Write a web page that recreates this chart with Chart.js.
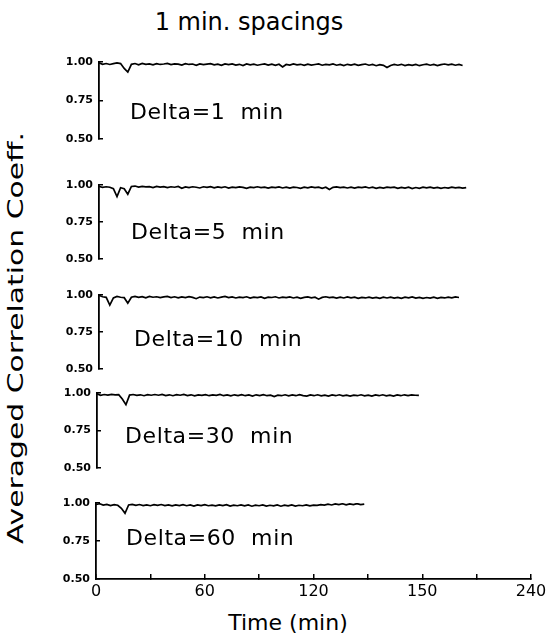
<!DOCTYPE html>
<html>
<head>
<meta charset="utf-8">
<script src="https://cdn.jsdelivr.net/npm/chart.js@4.4.1/dist/chart.umd.min.js"></script>
<style>
  body { margin: 0; background: #fff; }
  #wrap { position: relative; width: 551px; height: 643px; overflow: hidden; font-family: "DejaVu Sans", sans-serif; color: #000; }
  #wrap canvas { position: absolute; left: 0; }
  .txt { position: absolute; white-space: nowrap; line-height: 1; }
  #title { left: 249px; top: 10px; font-size: 24px; transform: translateX(-50%); }
  #xtitle { left: 288px; top: 612px; font-size: 22px; transform: translateX(-50%); }
  #ytitle { left: 16px; top: 338px; font-size: 21px; transform: translate(-50%, -50%) rotate(-90deg) scaleX(1.42); }
</style>
</head>
<body>
<div id="wrap">
  <div class="txt" id="title">1 min. spacings</div>
  <div class="txt" id="ytitle">Averaged Correlation Coeff.</div>
  <div class="txt" id="xtitle">Time (min)</div>
</div>
<script>
// sampled every 2 min
const STEP = 2;
const deltaLabels = ["Delta=1  min", "Delta=5  min", "Delta=10  min", "Delta=30  min", "Delta=60  min"];
const yTickValues = [0.5, 0.75, 1.0];
const xTickValues = [0, 60, 120, 180, 240];
const xTickLabels = ["0", "60", "120", "150", "240"];

const delta1 = [0.995, 0.985, 0.990, 0.984, 0.989, 0.994, 0.990, 0.958, 0.935, 0.985, 0.990, 0.982, 0.991, 0.985, 0.988, 0.981,
  0.989, 0.984, 0.987, 0.991, 0.983, 0.988, 0.986, 0.980, 0.989, 0.984, 0.987, 0.979, 0.988, 0.983, 0.986, 0.989,
  0.981, 0.986, 0.978, 0.987, 0.983, 0.988, 0.980, 0.985, 0.977, 0.987, 0.982, 0.986, 0.979, 0.984, 0.988, 0.980,
  0.986, 0.978, 0.985, 0.968, 0.984, 0.980, 0.987, 0.981, 0.985, 0.978, 0.986, 0.980, 0.984, 0.988, 0.979, 0.985,
  0.981, 0.987, 0.979, 0.984, 0.977, 0.985, 0.980, 0.986, 0.978, 0.983, 0.987, 0.979, 0.984, 0.976, 0.983, 0.978,
  0.964, 0.977, 0.984, 0.979, 0.985, 0.977, 0.983, 0.978, 0.984, 0.976, 0.982, 0.986, 0.979, 0.984, 0.977, 0.983,
  0.987, 0.981, 0.986, 0.979, 0.984, 0.977];
const delta5 = [0.990, 0.984, 0.988, 0.985, 0.975, 0.922, 0.982, 0.975, 0.938, 0.990, 0.993, 0.986, 0.991, 0.987, 0.989, 0.983,
  0.990, 0.986, 0.989, 0.982, 0.988, 0.985, 0.990, 0.978, 0.987, 0.983, 0.988, 0.985, 0.980, 0.988, 0.984, 0.989,
  0.981, 0.987, 0.983, 0.988, 0.979, 0.986, 0.982, 0.987, 0.984, 0.978, 0.986, 0.982, 0.988, 0.983, 0.986, 0.979,
  0.985, 0.982, 0.987, 0.980, 0.985, 0.979, 0.986, 0.983, 0.977, 0.985, 0.981, 0.987, 0.982, 0.986, 0.978, 0.985,
  0.970, 0.984, 0.987, 0.982, 0.986, 0.980, 0.985, 0.979, 0.986, 0.982, 0.987, 0.980, 0.985, 0.978, 0.984, 0.979,
  0.986, 0.982, 0.985, 0.977, 0.984, 0.979, 0.985, 0.976, 0.983, 0.978, 0.985, 0.981, 0.986, 0.979, 0.984, 0.977,
  0.983, 0.979, 0.985, 0.981, 0.984, 0.979, 0.982];
const delta10 = [0.997, 0.988, 0.984, 0.932, 0.980, 0.990, 0.985, 0.982, 0.945, 0.985, 0.991, 0.984, 0.989, 0.981, 0.990, 0.985,
  0.988, 0.982, 0.987, 0.990, 0.983, 0.988, 0.981, 0.987, 0.983, 0.989, 0.984, 0.975, 0.986, 0.983, 0.988, 0.981,
  0.987, 0.980, 0.986, 0.990, 0.982, 0.987, 0.980, 0.986, 0.983, 0.988, 0.979, 0.985, 0.982, 0.987, 0.978, 0.985,
  0.983, 0.988, 0.980, 0.986, 0.982, 0.987, 0.980, 0.985, 0.977, 0.984, 0.987, 0.981, 0.985, 0.972, 0.984, 0.988,
  0.982, 0.986, 0.979, 0.985, 0.980, 0.987, 0.981, 0.986, 0.978, 0.984, 0.980, 0.986, 0.979, 0.984, 0.977, 0.985,
  0.980, 0.986, 0.979, 0.984, 0.978, 0.985, 0.981, 0.987, 0.979, 0.984, 0.977, 0.983, 0.979, 0.985, 0.978, 0.984,
  0.980, 0.986, 0.981, 0.987, 0.983];
const delta30 = [0.995, 0.985, 0.990, 0.986, 0.991, 0.987, 0.989, 0.960, 0.922, 0.986, 0.990, 0.984, 0.988, 0.982, 0.989, 0.985,
  0.990, 0.985, 0.991, 0.983, 0.988, 0.982, 0.989, 0.985, 0.990, 0.983, 0.988, 0.981, 0.987, 0.984, 0.989, 0.982,
  0.987, 0.984, 0.990, 0.982, 0.987, 0.981, 0.988, 0.983, 0.989, 0.982, 0.987, 0.980, 0.988, 0.983, 0.989, 0.982,
  0.986, 0.976, 0.986, 0.982, 0.988, 0.981, 0.987, 0.982, 0.989, 0.983, 0.979, 0.987, 0.982, 0.988, 0.981, 0.986,
  0.980, 0.987, 0.982, 0.988, 0.981, 0.986, 0.979, 0.986, 0.982, 0.988, 0.981, 0.986, 0.980, 0.987, 0.982, 0.988,
  0.981, 0.986, 0.980, 0.987, 0.982, 0.988, 0.983, 0.987, 0.985, 0.984];
const delta60 = [0.990, 0.995, 0.986, 0.991, 0.983, 0.989, 0.985, 0.965, 0.932, 0.987, 0.991, 0.984, 0.990, 0.983, 0.988, 0.982,
  0.989, 0.984, 0.990, 0.983, 0.988, 0.981, 0.987, 0.983, 0.989, 0.982, 0.987, 0.980, 0.988, 0.983, 0.989, 0.982,
  0.986, 0.981, 0.988, 0.983, 0.989, 0.980, 0.986, 0.982, 0.988, 0.981, 0.987, 0.979, 0.986, 0.982, 0.988, 0.980,
  0.985, 0.981, 0.987, 0.979, 0.986, 0.981, 0.987, 0.980, 0.985, 0.982, 0.988, 0.981, 0.986, 0.984, 0.989, 0.986,
  0.992, 0.987, 0.994, 0.989, 0.995, 0.988, 0.994, 0.990, 0.996, 0.989, 0.992];

const series = [delta1, delta5, delta10, delta30, delta60];

// layout of each panel: pixel rows of 1.00 and 0.50, left edge of the axis,
// and where the "Delta=" text sits (baseline, page coords)
const panels = [
  { top: 62, bottom: 139, left: 99, labelX: 130, labelY: 119 },
  { top: 185, bottom: 259, left: 99, labelX: 131, labelY: 239 },
  { top: 295, bottom: 369, left: 99, labelX: 134, labelY: 346 },
  { top: 393, bottom: 468, left: 97, labelX: 125, labelY: 443 },
  { top: 503, bottom: 579, left: 96, labelX: 126, labelY: 545 },
];

const PAD = 17;      // room for the y tick labels above/below the plot
const CANVAS_W = 560;
const RIGHT = 531;   // pixel of x = 240

const panelText = {
  id: 'panelText',
  afterDraw(chart, args, opts) {
    const ctx = chart.ctx;
    ctx.save();
    ctx.font = '22px "DejaVu Sans"';
    ctx.letterSpacing = '0.6px';
    ctx.fillStyle = '#000';
    ctx.textBaseline = 'alphabetic';
    ctx.fillText(opts.text, opts.x, opts.y);
    ctx.restore();
  }
};

function makePanel(i) {
  const p = panels[i];
  const last = i === panels.length - 1;
  const plotH = p.bottom - p.top;
  const h = last ? 643 - p.top + PAD : plotH + 2 * PAD;
  const canvasTop = p.top - PAD;

  const canvas = document.createElement('canvas');
  canvas.width = CANVAS_W;
  canvas.height = h;
  canvas.style.top = canvasTop + 'px';
  document.getElementById('wrap').appendChild(canvas);

  new Chart(canvas.getContext('2d'), {
    type: 'line',
    data: {
      datasets: [
        {
          data: series[i].map((v, k) => ({ x: k * STEP, y: v })),
          borderColor: '#000',
          borderWidth: 1.7,
          pointRadius: 0,
          tension: 0,
          fill: false,
        },
      ]
    },
    plugins: [panelText],
    options: {
      responsive: false,
      animation: false,
      events: [],
      layout: {
        padding: { top: PAD, bottom: last ? 0 : PAD, left: 0, right: CANVAS_W - RIGHT }
      },
      scales: {
        x: {
          type: 'linear',
          min: 0,
          max: 240,
          display: last,
          afterFit: (s) => { if (last) s.height = h - PAD - plotH; },
          afterBuildTicks: (s) => {
            s.ticks = [0, 30, 60, 90, 120, 150, 180, 210, 240].map(v => ({ value: v }));
          },
          ticks: {
            autoSkip: false,
            maxRotation: 0,
            padding: 8,
            color: '#000',
            font: { family: 'DejaVu Sans', size: 16 },
            callback: (v) => {
              const k = xTickValues.indexOf(v);
              return k >= 0 ? xTickLabels[k] : '';
            }
          },
          grid: {
            drawOnChartArea: false,
            tickLength: -5,
            color: '#000',
            lineWidth: 1.5
          },
          border: { color: '#000', width: 1.8 }
        },
        y: {
          min: 0.5,
          max: 1.0,
          afterFit: (s) => { s.width = p.left; },
          afterBuildTicks: (s) => {
            s.ticks = yTickValues.map(v => ({ value: v }));
          },
          ticks: {
            padding: 10,
            color: '#000',
            font: { family: 'DejaVu Sans', size: 11, weight: 'bold' },
            callback: (v) => Number(v).toFixed(2)
          },
          grid: {
            drawOnChartArea: false,
            tickLength: -4,
            color: '#000',
            lineWidth: 1.5
          },
          border: { color: '#000', width: 1.8 }
        }
      },
      plugins: {
        legend: { display: false },
        title: { display: false },
        tooltip: { enabled: false },
        panelText: { text: deltaLabels[i], x: p.labelX, y: p.labelY - canvasTop }
      }
    },
  });
}

for (let i = 0; i < panels.length; i++) makePanel(i);
</script>
</body>
</html>
